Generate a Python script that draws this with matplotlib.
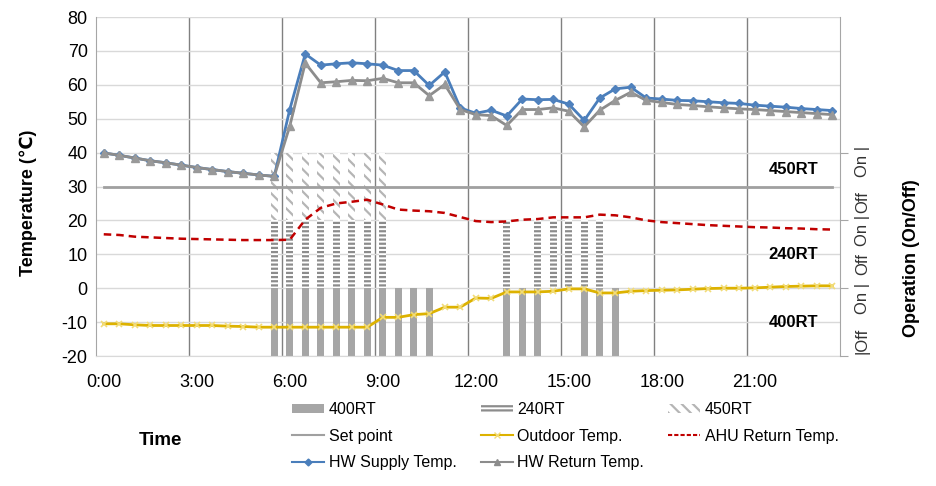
import matplotlib
matplotlib.use("Agg")
import matplotlib.pyplot as plt
import matplotlib.transforms as mtransforms
from matplotlib.patches import Patch
from matplotlib.lines import Line2D
import numpy as np

plt.rcParams['font.family'] = ['Liberation Sans', 'DejaVu Sans']
plt.rcParams['hatch.linewidth'] = 1.6
plt.rcParams['axes.unicode_minus'] = False

# half-hour slots, 0:00 .. 23:30
times = ['{}:{:02d}'.format(h, m) for h in range(24) for m in (0, 30)]
tick_labels = ['0:00', '3:00', '6:00', '9:00', '12:00', '15:00', '18:00', '21:00']

hw_supply = [39.9, 39.2, 38.4, 37.6, 37.0, 36.3, 35.6, 35.0, 34.4, 33.9, 33.4, 33.0,
             52.7, 69.1, 65.8, 66.2, 66.5, 66.2, 65.8, 64.2, 64.2, 59.8, 63.8, 53.2,
             51.6, 52.5, 50.8, 55.8, 55.6, 55.7, 54.3, 49.5, 56.1, 58.8, 59.3, 56.1,
             55.8, 55.4, 55.3, 55.0, 54.7, 54.5, 54.0, 53.7, 53.4, 53.0, 52.7, 52.4]
hw_return = [39.9, 39.2, 38.4, 37.6, 37.0, 36.3, 35.6, 35.0, 34.4, 33.9, 33.4, 33.0,
             47.8, 66.4, 60.6, 60.9, 61.3, 61.2, 61.9, 60.6, 60.6, 56.8, 60.1, 52.7,
             51.2, 50.9, 48.0, 52.7, 52.7, 53.2, 52.2, 47.6, 52.5, 55.4, 57.8, 55.4,
             54.8, 54.2, 53.9, 53.5, 53.2, 52.9, 52.7, 52.4, 52.1, 51.8, 51.5, 51.2]
outdoor = [-10.5, -10.5, -10.8, -11.0, -11.0, -11.0, -11.0, -11.0, -11.2, -11.3, -11.5, -11.5,
           -11.5, -11.5, -11.5, -11.5, -11.5, -11.5, -8.6, -8.6, -7.8, -7.5, -5.6, -5.6,
           -2.9, -3.0, -1.1, -1.1, -1.1, -0.9, -0.2, -0.2, -1.4, -1.4, -0.9, -0.7,
           -0.6, -0.5, -0.3, -0.1, 0.0, 0.0, 0.1, 0.3, 0.5, 0.6, 0.7, 0.7]
ahu_return = [15.9, 15.7, 15.2, 15.0, 14.8, 14.6, 14.5, 14.4, 14.3, 14.2, 14.2, 14.2,
              14.3, 20.2, 23.7, 25.0, 25.5, 26.1, 24.7, 23.2, 22.9, 22.7, 22.2, 21.0,
              19.8, 19.5, 19.7, 20.2, 20.4, 20.9, 20.9, 20.9, 21.7, 21.5, 20.9, 20.0,
              19.5, 19.2, 18.9, 18.6, 18.4, 18.2, 18.0, 17.9, 17.7, 17.6, 17.4, 17.3]
set_point = 30

# chiller on/off status per slot
rt400 = [0]*11 + [1]*11 + [0]*4 + [1, 1, 1, 0, 0, 1, 1, 1] + [0]*14
rt240 = [0]*11 + [1]*8 + [0]*7 + [1, 0, 1, 1, 1, 1, 1, 0] + [0]*14
rt450 = [0]*11 + [1]*8 + [0]*29

x = np.arange(len(times))

fig = plt.figure(figsize=(9.36, 4.86), dpi=100)
ax = fig.add_axes([96/936, 1-356/486, 744/936, 339/486])
ax.set_axisbelow(True)

bw = 0.42
ax.bar(x, np.array(rt400)*20, bottom=-20, width=bw, color='#A6A6A6', linewidth=0, zorder=2)
ax.bar(x, np.array(rt240)*20, bottom=0, width=bw, color='white', edgecolor='#8C8C8C',
       hatch='----', linewidth=0, zorder=2)
ax.bar(x, np.array(rt450)*20, bottom=20, width=bw, color='white', edgecolor='#B5B5B5',
       hatch='\\\\\\', linewidth=0, zorder=2)

ax.plot([x[0], x[-1]], [set_point, set_point], color='#A0A0A0', lw=2, zorder=3)
ax.plot(x, outdoor, color='#DDB200', lw=2, marker='x', ms=5, mec='#F2DC78', mew=1.2, zorder=4)
ax.plot(x, ahu_return, color='#C00000', lw=1.8, ls=(0, (3, 2)), zorder=4)
ax.plot(x, hw_supply, color='#4A7EBB', lw=2, marker='D', ms=4.5, mfc='#4F81BD', mec='#4F81BD', zorder=5)
ax.plot(x, hw_return, color='#8C8C8C', lw=2, marker='^', ms=6, mfc='#999999', mec='#999999', zorder=6)

ax.set_xlim(-0.5, 47.5)
ax.set_ylim(-20, 80)
ax.set_yticks(np.arange(-20, 81, 10))
ax.set_xticks(x[::6])
ax.set_xticklabels(tick_labels)
ax.set_xticks(np.arange(5.5, 47, 6), minor=True)
ax.tick_params(axis='both', which='both', length=0, labelsize=13)
ax.tick_params(axis='x', pad=13)
ax.tick_params(axis='y', pad=6)
ax.grid(axis='y', color='#D9D9D9', lw=1)
ax.grid(axis='x', which='minor', color='#808080', lw=1)
ax.spines['top'].set_visible(False)
ax.spines['right'].set_visible(False)
ax.spines['left'].set_color('#A6A6A6')
ax.spines['bottom'].set_color('#D9D9D9')

ax2 = ax.twinx()
ax2.set_ylim(-20, 80)
ax2.set_yticks([-20, 0, 20, 40])
ax2.set_yticklabels([])
ax2.tick_params(axis='y', direction='out', length=6, color='#A6A6A6')
for s in ['top', 'left', 'bottom']:
    ax2.spines[s].set_visible(False)
ax2.spines['right'].set_color('#A6A6A6')

trans = mtransforms.blended_transform_factory(ax2.transAxes, ax2.transData)
onoff = [('|Off', -15.5), ('On |', -3), ('Off', 7), ('On |', 17), ('Off', 25.5), ('On |', 37.5)]
for txt, yv in onoff:
    ax2.text(1.03, yv, txt, transform=trans, rotation=90, ha='center', va='center',
             fontsize=12, color='#333333')

trans_in = mtransforms.blended_transform_factory(ax.transAxes, ax.transData)
for txt, yv in [('450RT', 35), ('240RT', 10), ('400RT', -10)]:
    ax.text(0.937, yv, txt, transform=trans_in, ha='center', va='center',
            fontsize=12, fontweight='bold', zorder=7)

fig.text(28/936, 1-203/486, 'Temperature (\u2103)', rotation=90, ha='center', va='center',
         fontsize=13, fontweight='bold')
fig.text(912/936, 1-258/486, 'Operation (On/Off)', rotation=90, ha='center', va='center',
         fontsize=13, fontweight='bold')
fig.text(160/936, 1-440/486, 'Time', ha='center', va='center', fontsize=13.5, fontweight='bold')

handles = [
    Patch(facecolor='#A6A6A6', linewidth=0),
    Line2D([], [], color='#A0A0A0', lw=1.5),
    Line2D([], [], color='#4A7EBB', lw=1.5, marker='D', ms=3.5),
    Patch(facecolor='white', edgecolor='#8C8C8C', hatch='----', linewidth=0),
    Line2D([], [], color='#DDB200', lw=1.5, marker='x', ms=4, mec='#F2DC78'),
    Line2D([], [], color='#8C8C8C', lw=1.5, marker='^', ms=4.5),
    Patch(facecolor='white', edgecolor='#B5B5B5', hatch='\\\\\\', linewidth=0),
    Line2D([], [], color='#C00000', lw=1.5, ls=(0, (2, 1))),
]
labels = ['400RT', 'Set point', 'HW Supply Temp.', '240RT', 'Outdoor Temp.',
          'HW Return Temp.', '450RT', 'AHU Return Temp.']
fig.legend(handles, labels, ncol=3, loc='upper left', bbox_to_anchor=(292/936, 1-402/486),
           frameon=False, fontsize=11.5, handlelength=2.0, handleheight=0.5,
           handletextpad=0.3, columnspacing=1.5, labelspacing=0.72, borderpad=0,
           borderaxespad=0)

fig.savefig('out.png', dpi=100)
